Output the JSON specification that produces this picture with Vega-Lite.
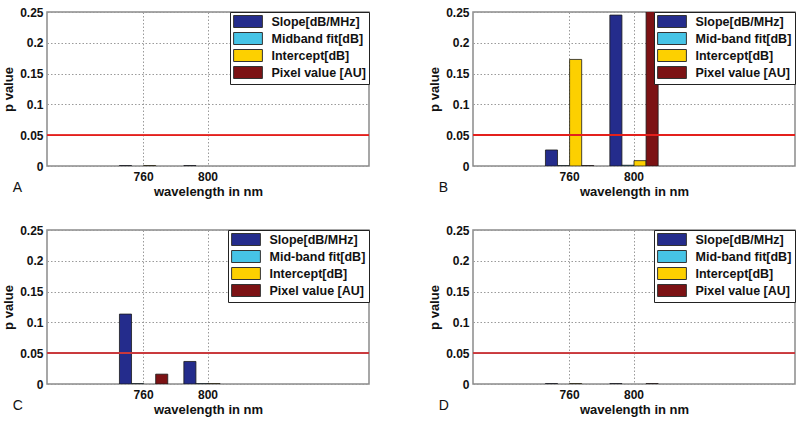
{
  "$schema": "https://vega.github.io/schema/vega-lite/v6.json",
  "padding": {"left": 1, "top": 5, "right": 5, "bottom": 5},
  "background": "white",
  "config": {
    "font": "Liberation Sans",
    "view": {"stroke": "#8a8a8a", "strokeWidth": 1.5},
    "axis": {
      "labelFont": "Liberation Sans", "labelFontWeight": "bold", "labelFontSize": 12, "labelColor": "#111",
      "titleFont": "Liberation Sans", "titleFontWeight": "bold", "titleFontSize": 13, "titleColor": "#111",
      "domain": false, "ticks": false, "labelOverlap": false,
      "gridColor": "#9a9a9a", "gridDash": [1.5, 2], "gridWidth": 1, "gridOpacity": 1
    },
    "legend": {
      "orient": "top-right", "offset": 0, "padding": 3,
      "strokeColor": "#222", "fillColor": "white", "strokeWidth": 1,
      "labelFont": "Liberation Sans", "labelFontWeight": "bold", "labelFontSize": 12.5, "labelColor": "#111",
      "symbolType": "M-2.4,-1H2.4V1H-2.4Z", "symbolSize": 144, "symbolStrokeColor": "#333", "symbolStrokeWidth": 1,
      "symbolOffset": 8.5, "labelOffset": 17, "rowPadding": 0, "title": null
    },
    "title": {"orient": "bottom", "anchor": "start", "frame": "bounds", "fontSize": 14, "fontWeight": "normal", "font": "Liberation Sans", "color": "#111", "offset": -17, "dx": 10}
  },
  "data": {"values": [
    {"panel": "A", "wavelength": "760", "measure": "Slope[dB/MHz]", "p": 0.0006},
    {"panel": "A", "wavelength": "760", "measure": "Intercept[dB]", "p": 0.0006},
    {"panel": "A", "wavelength": "800", "measure": "Slope[dB/MHz]", "p": 0.0006},
    {"panel": "B", "wavelength": "760", "measure": "Slope[dB/MHz]", "p": 0.026},
    {"panel": "B", "wavelength": "760", "measure": "Mid-band fit[dB]", "p": 0.0006},
    {"panel": "B", "wavelength": "760", "measure": "Intercept[dB]", "p": 0.173},
    {"panel": "B", "wavelength": "760", "measure": "Pixel value [AU]", "p": 0.0006},
    {"panel": "B", "wavelength": "800", "measure": "Slope[dB/MHz]", "p": 0.245},
    {"panel": "B", "wavelength": "800", "measure": "Mid-band fit[dB]", "p": 0.0012},
    {"panel": "B", "wavelength": "800", "measure": "Intercept[dB]", "p": 0.0087},
    {"panel": "B", "wavelength": "800", "measure": "Pixel value [AU]", "p": 0.32},
    {"panel": "C", "wavelength": "760", "measure": "Slope[dB/MHz]", "p": 0.1135},
    {"panel": "C", "wavelength": "760", "measure": "Mid-band fit[dB]", "p": 0.0006},
    {"panel": "C", "wavelength": "760", "measure": "Pixel value [AU]", "p": 0.016},
    {"panel": "C", "wavelength": "800", "measure": "Slope[dB/MHz]", "p": 0.0366},
    {"panel": "C", "wavelength": "800", "measure": "Mid-band fit[dB]", "p": 0.0006},
    {"panel": "C", "wavelength": "800", "measure": "Intercept[dB]", "p": 0.0006},
    {"panel": "D", "wavelength": "760", "measure": "Slope[dB/MHz]", "p": 0.0006},
    {"panel": "D", "wavelength": "760", "measure": "Intercept[dB]", "p": 0.0006},
    {"panel": "D", "wavelength": "800", "measure": "Slope[dB/MHz]", "p": 0.0006},
    {"panel": "D", "wavelength": "800", "measure": "Pixel value [AU]", "p": 0.0006}
  ]},
  "columns": 2,
  "spacing": {"column": 104, "row": 64},
  "bounds": "flush",
  "resolve": {"scale": {"color": "independent", "xOffset": "independent"}, "legend": {"color": "independent"}},
  "concat": [
    {
      "title": "A", "width": 322, "height": 154,
      "transform": [{"filter": "datum.panel === 'A'"}],
      "layer": [
        {
          "mark": {"type": "bar", "clip": true, "stroke": "#1a1a1a", "strokeWidth": 0.8},
          "encoding": {
            "x": {"field": "wavelength", "type": "nominal", "scale": {"domain": ["720","760","800","840","880"], "paddingInner": 0.25, "paddingOuter": 0.125}, "axis": {"values": ["760","800"], "labelAngle": 0, "grid": true, "bandPosition": 0.5, "title": "wavelength in nm", "labelPadding": 5, "titlePadding": 3}},
            "xOffset": {"field": "measure", "type": "nominal", "scale": {"domain": ["Slope[dB/MHz]","Midband fit[dB]","Intercept[dB]","Pixel value [AU]"], "paddingInner": 0, "paddingOuter": 0}},
            "y": {"field": "p", "type": "quantitative", "scale": {"domain": [0, 0.25], "nice": false}, "axis": {"values": [0,0.05,0.1,0.15,0.2,0.25], "format": "~g", "title": "p value", "labelPadding": 4, "titlePadding": 4, "grid": true}},
            "color": {"field": "measure", "type": "nominal", "scale": {"domain": ["Slope[dB/MHz]","Midband fit[dB]","Intercept[dB]","Pixel value [AU]"], "range": ["#242c8c","#46c4e6","#fdd000","#7c1214"]}}
          }
        },
        {"mark": {"type": "rule", "color": "#e3201c", "strokeWidth": 1.5}, "encoding": {"y": {"datum": 0.05, "type": "quantitative", "axis": {"values": [0,0.05,0.1,0.15,0.2,0.25], "format": "~g", "title": "p value", "labelPadding": 4, "titlePadding": 4, "grid": true}}}}
      ]
    },
    {
      "title": "B", "width": 322, "height": 154,
      "transform": [{"filter": "datum.panel === 'B'"}],
      "layer": [
        {
          "mark": {"type": "bar", "clip": true, "stroke": "#1a1a1a", "strokeWidth": 0.8},
          "encoding": {
            "x": {"field": "wavelength", "type": "nominal", "scale": {"domain": ["720","760","800","840","880"], "paddingInner": 0.25, "paddingOuter": 0.125}, "axis": {"values": ["760","800"], "labelAngle": 0, "grid": true, "bandPosition": 0.5, "title": "wavelength in nm", "labelPadding": 5, "titlePadding": 3}},
            "xOffset": {"field": "measure", "type": "nominal", "scale": {"domain": ["Slope[dB/MHz]","Mid-band fit[dB]","Intercept[dB]","Pixel value [AU]"], "paddingInner": 0, "paddingOuter": 0}},
            "y": {"field": "p", "type": "quantitative", "scale": {"domain": [0, 0.25], "nice": false}, "axis": {"values": [0,0.05,0.1,0.15,0.2,0.25], "format": "~g", "title": "p value", "labelPadding": 4, "titlePadding": 4, "grid": true}},
            "color": {"field": "measure", "type": "nominal", "scale": {"domain": ["Slope[dB/MHz]","Mid-band fit[dB]","Intercept[dB]","Pixel value [AU]"], "range": ["#242c8c","#46c4e6","#fdd000","#7c1214"]}}
          }
        },
        {"mark": {"type": "rule", "color": "#e3201c", "strokeWidth": 1.5}, "encoding": {"y": {"datum": 0.05, "type": "quantitative", "axis": {"values": [0,0.05,0.1,0.15,0.2,0.25], "format": "~g", "title": "p value", "labelPadding": 4, "titlePadding": 4, "grid": true}}}}
      ]
    },
    {
      "title": "C", "width": 322, "height": 154,
      "transform": [{"filter": "datum.panel === 'C'"}],
      "layer": [
        {
          "mark": {"type": "bar", "clip": true, "stroke": "#1a1a1a", "strokeWidth": 0.8},
          "encoding": {
            "x": {"field": "wavelength", "type": "nominal", "scale": {"domain": ["720","760","800","840","880"], "paddingInner": 0.25, "paddingOuter": 0.125}, "axis": {"values": ["760","800"], "labelAngle": 0, "grid": true, "bandPosition": 0.5, "title": "wavelength in nm", "labelPadding": 5, "titlePadding": 3}},
            "xOffset": {"field": "measure", "type": "nominal", "scale": {"domain": ["Slope[dB/MHz]","Mid-band fit[dB]","Intercept[dB]","Pixel value [AU]"], "paddingInner": 0, "paddingOuter": 0}},
            "y": {"field": "p", "type": "quantitative", "scale": {"domain": [0, 0.25], "nice": false}, "axis": {"values": [0,0.05,0.1,0.15,0.2,0.25], "format": "~g", "title": "p value", "labelPadding": 4, "titlePadding": 4, "grid": true}},
            "color": {"field": "measure", "type": "nominal", "scale": {"domain": ["Slope[dB/MHz]","Mid-band fit[dB]","Intercept[dB]","Pixel value [AU]"], "range": ["#242c8c","#46c4e6","#fdd000","#7c1214"]}}
          }
        },
        {"mark": {"type": "rule", "color": "#c9393c", "strokeWidth": 1.5}, "encoding": {"y": {"datum": 0.05, "type": "quantitative", "axis": {"values": [0,0.05,0.1,0.15,0.2,0.25], "format": "~g", "title": "p value", "labelPadding": 4, "titlePadding": 4, "grid": true}}}}
      ]
    },
    {
      "title": "D", "width": 322, "height": 154,
      "transform": [{"filter": "datum.panel === 'D'"}],
      "layer": [
        {
          "mark": {"type": "bar", "clip": true, "stroke": "#1a1a1a", "strokeWidth": 0.8},
          "encoding": {
            "x": {"field": "wavelength", "type": "nominal", "scale": {"domain": ["720","760","800","840","880"], "paddingInner": 0.25, "paddingOuter": 0.125}, "axis": {"values": ["760","800"], "labelAngle": 0, "grid": true, "bandPosition": 0.5, "title": "wavelength in nm", "labelPadding": 5, "titlePadding": 3}},
            "xOffset": {"field": "measure", "type": "nominal", "scale": {"domain": ["Slope[dB/MHz]","Mid-band fit[dB]","Intercept[dB]","Pixel value [AU]"], "paddingInner": 0, "paddingOuter": 0}},
            "y": {"field": "p", "type": "quantitative", "scale": {"domain": [0, 0.25], "nice": false}, "axis": {"values": [0,0.05,0.1,0.15,0.2,0.25], "format": "~g", "title": "p value", "labelPadding": 4, "titlePadding": 4, "grid": true}},
            "color": {"field": "measure", "type": "nominal", "scale": {"domain": ["Slope[dB/MHz]","Mid-band fit[dB]","Intercept[dB]","Pixel value [AU]"], "range": ["#242c8c","#46c4e6","#fdd000","#7c1214"]}}
          }
        },
        {"mark": {"type": "rule", "color": "#c9393c", "strokeWidth": 1.5}, "encoding": {"y": {"datum": 0.05, "type": "quantitative", "axis": {"values": [0,0.05,0.1,0.15,0.2,0.25], "format": "~g", "title": "p value", "labelPadding": 4, "titlePadding": 4, "grid": true}}}}
      ]
    }
  ]
}
